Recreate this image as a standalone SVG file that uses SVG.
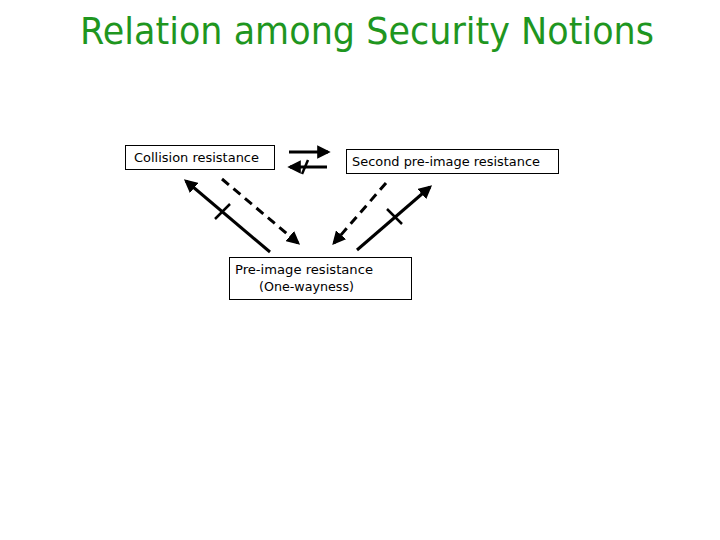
<svg xmlns="http://www.w3.org/2000/svg" width="720" height="540" viewBox="0 0 720 540">
<style>
.box{fill:#fff;stroke:#000;stroke-width:1}
.lbl{font-family:"DejaVu Sans","Liberation Sans",sans-serif;font-size:13px;fill:#000}
.ln{stroke:#000;stroke-width:3;fill:none}
.dash{stroke:#000;stroke-width:3;fill:none;stroke-dasharray:9,6}
.tick{stroke:#000;stroke-width:2.5}
</style>
<defs>
<marker id="ah" viewBox="0 0 10 10" refX="8" refY="5" markerWidth="4.5" markerHeight="4.5" orient="auto" markerUnits="strokeWidth">
<path d="M0,0 L10,5 L0,10 z" fill="#000"/>
</marker>
</defs>
<rect width="720" height="540" fill="#fff"/>
<text x="367" y="44" text-anchor="middle" font-family="'DejaVu Sans','Liberation Sans',sans-serif" font-size="38" fill="#1f961f" textLength="574" lengthAdjust="spacingAndGlyphs">Relation among Security Notions</text>
<g id="collision">
<rect class="box" x="125.500" y="145.500" width="149" height="24"/>
<text class="lbl" x="134" y="162" textLength="125" lengthAdjust="spacingAndGlyphs">Collision resistance</text>
</g>
<g id="second">
<rect class="box" x="346.500" y="149.500" width="212" height="24"/>
<text class="lbl" x="352" y="166" textLength="188" lengthAdjust="spacingAndGlyphs">Second pre-image resistance</text>
</g>
<g id="preimage">
<rect class="box" x="229.500" y="257.500" width="182" height="42"/>
<text class="lbl" x="235" y="274" textLength="138" lengthAdjust="spacingAndGlyphs">Pre-image resistance</text>
<text class="lbl" x="259" y="291" textLength="95" lengthAdjust="spacingAndGlyphs">(One-wayness)</text>
</g>
<g id="connectors">
<line class="ln" x1="289" y1="152" x2="328" y2="152" marker-end="url(#ah)"/>
<line class="ln" x1="327" y1="167" x2="290" y2="167" marker-end="url(#ah)"/>
<line class="tick" x1="302" y1="174" x2="308" y2="160"/>
<line class="ln" x1="270" y1="252" x2="186" y2="181" marker-end="url(#ah)"/>
<line class="tick" x1="215" y1="219" x2="230" y2="204"/>
<line class="dash" x1="222" y1="179" x2="298" y2="243" marker-end="url(#ah)"/>
<line class="dash" x1="386" y1="183" x2="334" y2="243" marker-end="url(#ah)"/>
<line class="ln" x1="357" y1="250" x2="430" y2="187" marker-end="url(#ah)"/>
<line class="tick" x1="387" y1="209" x2="402" y2="224"/>
</g>
</svg>
